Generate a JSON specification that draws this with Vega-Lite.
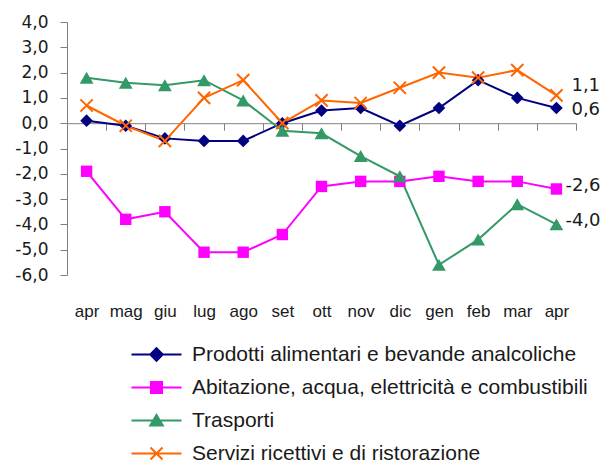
{
  "$schema": "https://vega.github.io/schema/vega-lite/v6.json",
  "width": 509,
  "height": 253,
  "autosize": "none",
  "padding": {"left": 67, "top": 22, "right": 37, "bottom": 188},
  "background": "white",
  "config": {
    "view": {"stroke": null},
    "font": "Liberation Sans",
    "locale": {"number": {"decimal": ",", "thousands": ".", "grouping": [3], "currency": ["", " €"], "minus": "-"}},
    "axis": {"labelFont": "Liberation Sans", "labelColor": "#1a1a1a", "domainColor": "#808080", "tickColor": "#808080", "domainWidth": 1, "tickWidth": 1, "grid": false},
    "legend": {"labelFont": "Liberation Sans", "labelColor": "#1a1a1a"}
  },
  "data": {
    "values": [
      {"periodo": "apr-1", "serie": "Prodotti alimentari e bevande analcoliche", "valore": 0.1},
      {"periodo": "mag", "serie": "Prodotti alimentari e bevande analcoliche", "valore": -0.1},
      {"periodo": "giu", "serie": "Prodotti alimentari e bevande analcoliche", "valore": -0.6},
      {"periodo": "lug", "serie": "Prodotti alimentari e bevande analcoliche", "valore": -0.7},
      {"periodo": "ago", "serie": "Prodotti alimentari e bevande analcoliche", "valore": -0.7},
      {"periodo": "set", "serie": "Prodotti alimentari e bevande analcoliche", "valore": 0.0},
      {"periodo": "ott", "serie": "Prodotti alimentari e bevande analcoliche", "valore": 0.5},
      {"periodo": "nov", "serie": "Prodotti alimentari e bevande analcoliche", "valore": 0.6},
      {"periodo": "dic", "serie": "Prodotti alimentari e bevande analcoliche", "valore": -0.1},
      {"periodo": "gen", "serie": "Prodotti alimentari e bevande analcoliche", "valore": 0.6},
      {"periodo": "feb", "serie": "Prodotti alimentari e bevande analcoliche", "valore": 1.7},
      {"periodo": "mar", "serie": "Prodotti alimentari e bevande analcoliche", "valore": 1.0},
      {"periodo": "apr-2", "serie": "Prodotti alimentari e bevande analcoliche", "valore": 0.6},
      {"periodo": "apr-1", "serie": "Abitazione, acqua, elettricità e combustibili", "valore": -1.9},
      {"periodo": "mag", "serie": "Abitazione, acqua, elettricità e combustibili", "valore": -3.8},
      {"periodo": "giu", "serie": "Abitazione, acqua, elettricità e combustibili", "valore": -3.5},
      {"periodo": "lug", "serie": "Abitazione, acqua, elettricità e combustibili", "valore": -5.1},
      {"periodo": "ago", "serie": "Abitazione, acqua, elettricità e combustibili", "valore": -5.1},
      {"periodo": "set", "serie": "Abitazione, acqua, elettricità e combustibili", "valore": -4.4},
      {"periodo": "ott", "serie": "Abitazione, acqua, elettricità e combustibili", "valore": -2.5},
      {"periodo": "nov", "serie": "Abitazione, acqua, elettricità e combustibili", "valore": -2.3},
      {"periodo": "dic", "serie": "Abitazione, acqua, elettricità e combustibili", "valore": -2.3},
      {"periodo": "gen", "serie": "Abitazione, acqua, elettricità e combustibili", "valore": -2.1},
      {"periodo": "feb", "serie": "Abitazione, acqua, elettricità e combustibili", "valore": -2.3},
      {"periodo": "mar", "serie": "Abitazione, acqua, elettricità e combustibili", "valore": -2.3},
      {"periodo": "apr-2", "serie": "Abitazione, acqua, elettricità e combustibili", "valore": -2.6},
      {"periodo": "apr-1", "serie": "Trasporti", "valore": 1.8},
      {"periodo": "mag", "serie": "Trasporti", "valore": 1.6},
      {"periodo": "giu", "serie": "Trasporti", "valore": 1.5},
      {"periodo": "lug", "serie": "Trasporti", "valore": 1.7},
      {"periodo": "ago", "serie": "Trasporti", "valore": 0.9},
      {"periodo": "set", "serie": "Trasporti", "valore": -0.3},
      {"periodo": "ott", "serie": "Trasporti", "valore": -0.4},
      {"periodo": "nov", "serie": "Trasporti", "valore": -1.3},
      {"periodo": "dic", "serie": "Trasporti", "valore": -2.1},
      {"periodo": "gen", "serie": "Trasporti", "valore": -5.6},
      {"periodo": "feb", "serie": "Trasporti", "valore": -4.6},
      {"periodo": "mar", "serie": "Trasporti", "valore": -3.2},
      {"periodo": "apr-2", "serie": "Trasporti", "valore": -4.0},
      {"periodo": "apr-1", "serie": "Servizi ricettivi e di ristorazione", "valore": 0.7},
      {"periodo": "mag", "serie": "Servizi ricettivi e di ristorazione", "valore": -0.1},
      {"periodo": "giu", "serie": "Servizi ricettivi e di ristorazione", "valore": -0.7},
      {"periodo": "lug", "serie": "Servizi ricettivi e di ristorazione", "valore": 1.0},
      {"periodo": "ago", "serie": "Servizi ricettivi e di ristorazione", "valore": 1.7},
      {"periodo": "set", "serie": "Servizi ricettivi e di ristorazione", "valore": 0.0},
      {"periodo": "ott", "serie": "Servizi ricettivi e di ristorazione", "valore": 0.9},
      {"periodo": "nov", "serie": "Servizi ricettivi e di ristorazione", "valore": 0.8},
      {"periodo": "dic", "serie": "Servizi ricettivi e di ristorazione", "valore": 1.4},
      {"periodo": "gen", "serie": "Servizi ricettivi e di ristorazione", "valore": 2.0},
      {"periodo": "feb", "serie": "Servizi ricettivi e di ristorazione", "valore": 1.8},
      {"periodo": "mar", "serie": "Servizi ricettivi e di ristorazione", "valore": 2.1},
      {"periodo": "apr-2", "serie": "Servizi ricettivi e di ristorazione", "valore": 1.1}
    ]
  },
  "encoding": {
    "x": {
      "field": "periodo",
      "type": "nominal",
      "sort": ["apr-1", "mag", "giu", "lug", "ago", "set", "ott", "nov", "dic", "gen", "feb", "mar", "apr-2"],
      "scale": {"type": "band", "paddingInner": 0, "paddingOuter": 0},
      "axis": {
        "title": null,
        "labelAngle": 0,
        "labelExpr": "substring(datum.label, 0, 3)",
        "labelFontSize": 17,
        "offset": -151.8,
        "tickBand": "extent",
        "tickSize": 7,
        "labelPadding": 173
      }
    },
    "y": {
      "field": "valore",
      "type": "quantitative",
      "scale": {"domain": [-6, 4], "nice": false, "zero": false},
      "axis": {
        "title": null,
        "values": [-6, -5, -4, -3, -2, -1, 0, 1, 2, 3, 4],
        "format": ".1f",
        "labelFont": "DejaVu Sans",
        "labelFontSize": 17,
        "tickSize": 7,
        "labelPadding": 12
      }
    }
  },
  "layer": [
    {
      "mark": {"type": "point", "filled": true, "opacity": 0, "size": 100},
      "encoding": {
        "color": {
          "field": "serie",
          "type": "nominal",
          "scale": {
            "domain": ["Prodotti alimentari e bevande analcoliche", "Abitazione, acqua, elettricità e combustibili", "Trasporti", "Servizi ricettivi e di ristorazione"],
            "range": ["#000080", "#FF00FF", "#339966", "#FF6600"]
          },
          "legend": {
            "title": null,
            "orient": "none",
            "legendX": 79,
            "legendY": 322,
            "labelFontSize": 21,
            "labelOffset": 25,
            "rowPadding": 11,
            "symbolSize": 100,
            "symbolStrokeWidth": 2,
            "labelLimit": 520,
            "encode": {"symbols": {"update": {"stroke": {"scale": "color", "field": "value"}, "strokeWidth": {"value": 2}}}}
          }
        },
        "shape": {
          "field": "serie",
          "type": "nominal",
          "scale": {
            "domain": ["Prodotti alimentari e bevande analcoliche", "Abitazione, acqua, elettricità e combustibili", "Trasporti", "Servizi ricettivi e di ristorazione"],
            "range": ["M-5,0H5M0,-1.25L1.25,0L0,1.25L-1.25,0Z", "M-5,0H5M-1.1,-1.1H1.1V1.1H-1.1Z", "M-5,0H5M0,-1.1L1.25,1L-1.25,1Z", "M-5,0H5M-1.2,-1.2L1.2,1.2M-1.2,1.2L1.2,-1.2"]
          },
          "legend": {
            "title": null,
            "orient": "none",
            "legendX": 79,
            "legendY": 322,
            "labelFontSize": 21,
            "labelOffset": 25,
            "rowPadding": 11,
            "symbolSize": 100,
            "symbolStrokeWidth": 2,
            "labelLimit": 520
          }
        }
      }
    },
    {
      "mark": {"type": "line", "strokeWidth": 2},
      "encoding": {"color": {"field": "serie", "type": "nominal", "legend": null}}
    },
    {
      "transform": [{"filter": "datum.serie === 'Prodotti alimentari e bevande analcoliche'"}],
      "mark": {"type": "point", "shape": "diamond", "filled": true, "opacity": 1, "size": 160},
      "encoding": {"color": {"field": "serie", "type": "nominal", "legend": null}}
    },
    {
      "transform": [{"filter": "datum.serie === 'Abitazione, acqua, elettricità e combustibili'"}],
      "mark": {"type": "point", "shape": "square", "filled": true, "opacity": 1, "size": 130},
      "encoding": {"color": {"field": "serie", "type": "nominal", "legend": null}}
    },
    {
      "transform": [{"filter": "datum.serie === 'Trasporti'"}],
      "mark": {"type": "point", "shape": "triangle-up", "filled": true, "opacity": 1, "size": 190},
      "encoding": {"color": {"field": "serie", "type": "nominal", "legend": null}}
    },
    {
      "transform": [{"filter": "datum.serie === 'Servizi ricettivi e di ristorazione'"}],
      "mark": {"type": "point", "shape": "M-1,-1L1,1M-1,1L1,-1", "filled": false, "opacity": 1, "size": 150, "strokeWidth": 2},
      "encoding": {"color": {"field": "serie", "type": "nominal", "legend": null}}
    },
    {
      "transform": [{"filter": "datum.periodo === 'apr-2' && datum.serie === 'Servizi ricettivi e di ristorazione'"}],
      "mark": {"type": "text", "align": "left", "baseline": "middle", "dx": 15, "dy": -9, "fontSize": 18, "font": "DejaVu Sans", "color": "#1a1a1a"},
      "encoding": {"text": {"field": "valore", "type": "quantitative", "format": ".1f"}}
    },
    {
      "transform": [{"filter": "datum.periodo === 'apr-2' && datum.serie === 'Prodotti alimentari e bevande analcoliche'"}],
      "mark": {"type": "text", "align": "left", "baseline": "middle", "dx": 15, "dy": 2, "fontSize": 18, "font": "DejaVu Sans", "color": "#1a1a1a"},
      "encoding": {"text": {"field": "valore", "type": "quantitative", "format": ".1f"}}
    },
    {
      "transform": [{"filter": "datum.periodo === 'apr-2' && (datum.serie === 'Trasporti' || datum.serie === 'Abitazione, acqua, elettricità e combustibili')"}],
      "mark": {"type": "text", "align": "left", "baseline": "middle", "dx": 9, "dy": -3, "fontSize": 18, "font": "DejaVu Sans", "color": "#1a1a1a"},
      "encoding": {"text": {"field": "valore", "type": "quantitative", "format": ".1f"}}
    }
  ]
}
